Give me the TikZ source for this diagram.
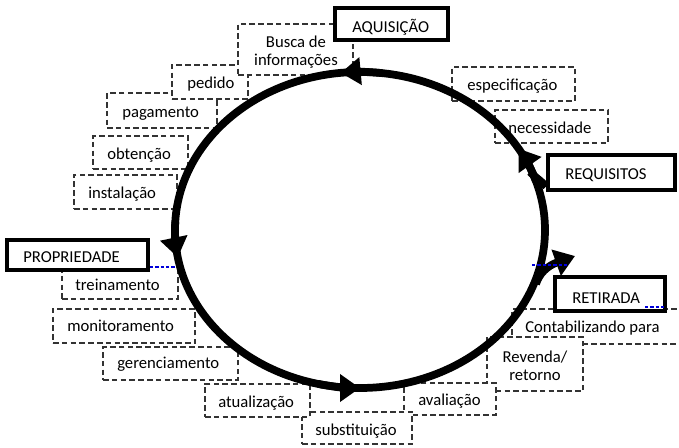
\documentclass[tikz,border=0pt]{standalone}
\usepackage{fontspec}
\setmainfont{Carlito}
\usetikzlibrary{arrows.meta,fit}
\begin{document}
\begin{tikzpicture}[x=0.75pt,y=-0.75pt,
  dbox/.style={draw=black!80, fill=white, line width=1.2pt, dash pattern=on 4.2pt off 2.4pt, inner sep=0pt},
  sbox/.style={draw=black, fill=white, line width=2.6pt, inner sep=0pt},
  txt/.style={anchor=base west, inner sep=0pt, text=black, font=\fontsize{12.5pt}{13.5pt}\selectfont},
  ctxt/.style={anchor=base, inner sep=0pt, text=black, font=\fontsize{12.5pt}{13.5pt}\selectfont},
  ring/.style={draw=black, line width=5.8pt},
  tip/.style={-{Triangle[length=15pt,width=20pt]}},
  artifact/.style={draw=blue!85!black, line width=0.8pt, dash pattern=on 2.5pt off 1.5pt}]

\useasboundingbox (0,0) rectangle (679,447);
\clip (0,0) rectangle (679,447);
\fill[white] (0,0) rectangle (679,447);

% dashed boxes, back to front
\node[dbox, fit={(512,309) (700,344)}] (contab) {};
\node[dbox, fit={(487,337) (583,391)}] (revenda) {};
\node[dbox, fit={(404,383) (496,415)}] (aval) {};
\node[dbox, fit={(302,412) (412,444)}] (subst) {};
\node[dbox, fit={(205,384) (310,417)}] (atual) {};
\node[dbox, fit={(103,347) (238,380)}] (geren) {};
\node[dbox, fit={(53,309) (195,343)}] (monit) {};
\node[dbox, fit={(62,267) (178,299)}] (trein) {};
\node[dbox, fit={(74,175) (177,209)}] (instal) {};
\node[dbox, fit={(93,136) (188,169)}] (obten) {};
\node[dbox, fit={(107,93) (217,128)}] (pagam) {};
\node[dbox, fit={(172,65) (248,99)}] (pedido) {};
\node[dbox, fit={(238,24) (353,75)}] (busca) {};
\node[dbox, fit={(452,67) (575,101)}] (espec) {};
\node[dbox, fit={(495,110) (608,143)}] (neces) {};

% labels of the dashed boxes
\node[txt] (t-contab) at (525,332) {Contabilizando para};
\node[ctxt] (t-rev1) at (535,362) {Revenda/};
\node[ctxt] (t-rev2) at (535,380) {retorno};
\node[txt] (t-aval) at (418,405) {avaliação};
\node[txt] (t-subst) at (315,435) {substituição};
\node[txt] (t-atual) at (218,407) {atualização};
\node[txt] (t-geren) at (117,368) {gerenciamento};
\node[txt] (t-monit) at (67,331) {monitoramento};
\node[txt] (t-trein) at (75,290) {treinamento};
\node[txt] (t-instal) at (88,198) {instalação};
\node[txt] (t-obten) at (107,159) {obtenção};
\node[txt] (t-pagam) at (122,117) {pagamento};
\node[txt] (t-pedido) at (187,88) {pedido};
\node[ctxt] (t-busca1) at (296,47) {Busca de};
\node[ctxt] (t-busca2) at (296,65) {informações};
\node[txt] (t-espec) at (467,90) {especificação};
\node[txt] (t-neces) at (508,133) {necessidade};

% the life-cycle ring
\draw[ring] (360,230) ellipse [x radius=185, y radius=158];

% solid phase boxes
\node[sbox, fit={(335,8) (448,40)}] (aquis) {};
\node[sbox, fit={(548,155) (675,190)}] (requis) {};
\node[sbox, fit={(555,277) (665,311)}] (retir) {};
\node[sbox, fit={(7,240) (148,270)}] (propr) {};
\node[txt] (t-aquis) at (352,32) {AQUISIÇÃO};
\node[txt] (t-requis) at (565,179) {REQUISITOS};
\node[txt] (t-retir) at (572,303) {RETIRADA};
\node[txt] (t-propr) at (23,262) {PROPRIEDADE};

% entry from REQUISITOS and exit towards RETIRADA
\coordinate (reqjoin) at (530,172);
\coordinate (retfork) at (536,284);
\coordinate (retend) at (575,256);
\draw[ring] ([yshift=4pt]requis.south west) .. controls (540,180) and (535,177) .. (reqjoin);
\draw[ring, tip] (retfork) .. controls (539,274) and (547,266) .. (retend);

% direction marks along the ring
\draw[ring, tip] (360,230) ++(-83:185 and 158) arc[start angle=-83, end angle=-96, x radius=185, y radius=158];
\draw[ring, tip] (360,230) ++(-177:185 and 158) arc[start angle=-177, end angle=-190, x radius=185, y radius=158];
\draw[ring, tip] (360,230) ++(-257:185 and 158) arc[start angle=-257, end angle=-270, x radius=185, y radius=158];
\draw[ring, tip] (360,230) ++(-18:185 and 158) arc[start angle=-18, end angle=-31, x radius=185, y radius=158];

% stray selection marks
\draw[white, line width=1.6pt] (150,267) -- (176,267);
\draw[artifact] (150,267) -- (176,267);
\draw[artifact] (532,265) -- (568,265);
\draw[artifact] (645,307) -- (666,307);
\end{tikzpicture}
\end{document}
